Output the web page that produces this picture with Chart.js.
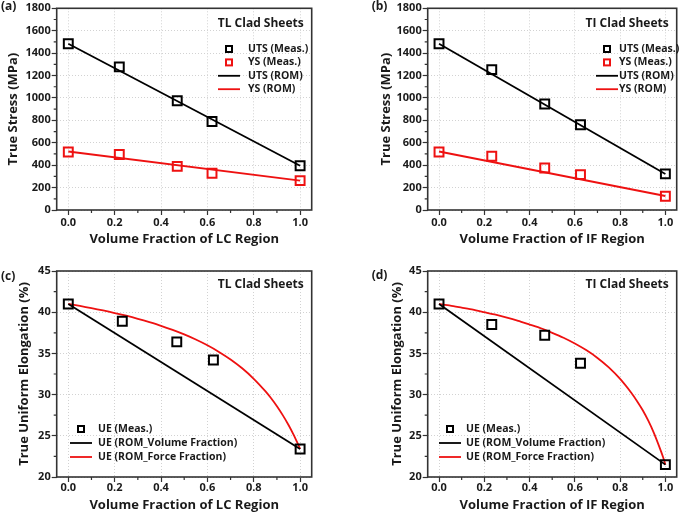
<!DOCTYPE html>
<html lang="en">
<head>
<meta charset="UTF-8">
<title>Clad sheets - rule of mixtures</title>
<script src="https://cdn.jsdelivr.net/npm/chart.js"></script>
<style>
  body { margin: 0; background: #fff; }
  #wrap { position: relative; width: 685px; height: 514px; }
  .panel { position: absolute; }
</style>
</head>
<body>
<div id="wrap">
  <div class="panel" style="left:0px;top:0px"><canvas id="chartA" width="340" height="255"></canvas></div>
  <div class="panel" style="left:340px;top:0px"><canvas id="chartB" width="345" height="255"></canvas></div>
  <div class="panel" style="left:0px;top:255px"><canvas id="chartC" width="340" height="259"></canvas></div>
  <div class="panel" style="left:340px;top:255px"><canvas id="chartD" width="345" height="259"></canvas></div>
</div>

<script>
// ---- data ----
// measured samples (volume fraction of LC / IF region)
const fracLC = [0, 0.22, 0.47, 0.62, 1.0];
const fracIF = [0, 0.233, 0.467, 0.625, 1.0];
const utsTL = [1484, 1277, 975, 790, 395];
const ysTL = [518, 495, 389, 328, 262];
const utsTI = [1484, 1253, 946, 761, 322];
const ysTI = [518, 480, 375, 316, 123];

// rule of mixtures lines (end points)
const romFrac = [0, 1.0];
const utsRomTL = [1484, 395];
const ysRomTL = [522, 262];
const utsRomTI = [1484, 322];
const ysRomTI = [522, 125];

// uniform elongation
const ueFracLC = [0, 0.233, 0.468, 0.626, 1.0];
const ueFracIF = [0, 0.233, 0.467, 0.625, 1.0];
const ueTL = [41.0, 38.9, 36.4, 34.2, 23.4];
const ueTI = [41.0, 38.5, 37.2, 33.8, 21.5];
const ueVolTL = [41.0, 23.4];
const ueVolTI = [41.0, 21.5];
// force-fraction curve, read along its length
const forceFrac = [0, 0.05, 0.1, 0.15, 0.2, 0.25, 0.3, 0.35, 0.4, 0.45, 0.5, 0.55, 0.6, 0.65,
                   0.7, 0.75, 0.8, 0.85, 0.875, 0.9, 0.925, 0.95, 0.97, 0.99, 1.0];
const ueForceTL = [41.0, 40.76, 40.49, 40.21, 39.9, 39.57, 39.2, 38.79, 38.35, 37.85, 37.3, 36.68, 35.98, 35.18,
                   34.26, 33.19, 31.92, 30.42, 29.55, 28.58, 27.51, 26.31, 25.23, 24.04, 23.4];
const ueForceTI = [41.0, 40.8, 40.55, 40.3, 40.0, 39.7, 39.35, 38.95, 38.5, 38.05, 37.5, 36.9, 36.2, 35.4,
                   34.45, 33.3, 31.9, 30.2, 29.2, 28.1, 26.8, 25.3, 23.9, 22.4, 21.5];

// ticks
const xTicks = [0, 0.2, 0.4, 0.6, 0.8, 1.0];
const xMinor = [0.1, 0.3, 0.5, 0.7, 0.9];
const stressTicks = [0, 200, 400, 600, 800, 1000, 1200, 1400, 1600, 1800];
const stressMinor = [100, 300, 500, 700, 900, 1100, 1300, 1500, 1700];
const ueTicks = [20, 25, 30, 35, 40, 45];
const ueMinor = [22.5, 27.5, 32.5, 37.5, 42.5];

// ---- styling ----
const RED = '#ee1111';
const BLACK = '#000000';
const AXIS = '#333333';
const TEXT = '#1a1a1a';
Chart.defaults.font.family = "'Open Sans', sans-serif";
Chart.defaults.color = TEXT;

const pts = (xs, ys) => xs.map((x, i) => ({x: x, y: ys[i]}));

function markers(label, xs, ys, color) {
  return {
    label: label, data: pts(xs, ys), showLine: false,
    pointStyle: 'rect', pointRadius: 6.3, pointBorderWidth: 2,
    pointBorderColor: color, pointBackgroundColor: 'rgba(0,0,0,0)'
  };
}
function line(label, xs, ys, color, smooth) {
  return {
    label: label, data: pts(xs, ys), showLine: true, pointRadius: 0,
    borderColor: color, borderWidth: 1.8,
    tension: smooth ? 0.2 : 0
  };
}

// draws frame, minor ticks, panel label, inner title and legend
const decor = {
  id: 'decor',
  afterDraw(chart, args, o) {
    const {ctx, chartArea: a} = chart;
    const x = chart.scales.x, y = chart.scales.y;
    ctx.save();
    ctx.strokeStyle = AXIS;
    ctx.lineWidth = 1.2;
    ctx.beginPath();
    o.xMinor.forEach(v => {
      const px = x.getPixelForValue(v);
      ctx.moveTo(px, a.bottom); ctx.lineTo(px, a.bottom + 3);
    });
    o.yMinor.forEach(v => {
      const py = y.getPixelForValue(v);
      ctx.moveTo(a.left, py); ctx.lineTo(a.left - 3, py);
    });
    ctx.stroke();
    ctx.lineWidth = 1.6;
    ctx.strokeRect(a.left, a.top, a.right - a.left, a.bottom - a.top);

    ctx.fillStyle = TEXT;
    ctx.textBaseline = 'middle';
    ctx.textAlign = 'left';
    ctx.font = "bold 12px 'Open Sans'";
    ctx.fillText(o.label, o.labelX, o.labelY);

    ctx.textAlign = 'right';
    ctx.fillText(o.title, a.right - 8, a.top + o.titleDy);

    ctx.textAlign = 'left';
    ctx.font = "bold 10.5px 'Open Sans'";
    chart.data.datasets.forEach((ds, i) => {
      const cy = o.legY + i * o.legGap;
      if (ds.showLine) {
        ctx.strokeStyle = ds.borderColor;
        ctx.lineWidth = 1.8;
        ctx.beginPath();
        ctx.moveTo(o.legX - 11, cy); ctx.lineTo(o.legX + 11, cy);
        ctx.stroke();
      } else {
        ctx.strokeStyle = ds.pointBorderColor;
        ctx.lineWidth = 2;
        ctx.strokeRect(o.legX - 3, cy - 3, 6, 6);
      }
      ctx.fillStyle = TEXT;
      ctx.fillText(ds.label, o.legX + o.textDx, cy);
    });
    ctx.restore();
  }
};

function makeChart(id, p) {
  const cv = document.getElementById(id);
  const W = cv.width, H = cv.height;
  return new Chart(cv, {
    type: 'scatter',
    data: {datasets: p.datasets},
    options: {
      responsive: false,
      animation: false,
      events: [],
      layout: {padding: {left: p.padL, right: W - p.right, top: p.top, bottom: p.padB}},
      scales: {
        x: {
          type: 'linear', min: -0.05, max: 1.05,
          afterBuildTicks: s => { s.ticks = xTicks.map(v => ({value: v})); },
          afterFit: s => { s.height = H - p.padB - p.bottom; s.paddingLeft = 0; s.paddingRight = 0; },
          grid: {color: '#d2d2d2', lineWidth: 1, tickColor: AXIS, tickLength: 5, tickWidth: 1.2},
          border: {display: false, dash: [1, 2]},
          ticks: {font: {size: 11, weight: 'bold'}, padding: p.xPad, callback: v => v.toFixed(1), maxRotation: 0},
          title: {display: true, text: p.xTitle, font: {size: 13, weight: 'bold'}, padding: 0}
        },
        y: {
          type: 'linear', min: p.yMin, max: p.yMax,
          afterBuildTicks: s => { s.ticks = p.yTicks.map(v => ({value: v})); },
          afterFit: s => { s.width = p.left - p.padL; s.paddingTop = 0; s.paddingBottom = 0; },
          grid: {color: '#d2d2d2', lineWidth: 1, tickColor: AXIS, tickLength: 5, tickWidth: 1.2},
          border: {display: false, dash: [1, 2]},
          ticks: {font: {size: 11, weight: 'bold'}, padding: 1, callback: v => String(v)},
          title: {display: true, text: p.yTitle, font: {size: 13, weight: 'bold'}, padding: 0}
        }
      },
      plugins: {
        legend: {display: false},
        tooltip: {enabled: false},
        decor: p.decor
      }
    },
    plugins: [decor]
  });
}

makeChart('chartA', {
  left: 56.7, right: 311.7, top: 5, bottom: 210, padL: 5.7, padB: 7.7, xPad: 1,
  yMin: 0, yMax: 1800, yTicks: stressTicks,
  xTitle: 'Volume Fraction of LC Region', yTitle: 'True Stress (MPa)',
  datasets: [
    markers('UTS (Meas.)', fracLC, utsTL, BLACK),
    markers('YS (Meas.)', fracLC, ysTL, RED),
    line('UTS (ROM)', romFrac, utsRomTL, BLACK),
    line('YS (ROM)', romFrac, ysRomTL, RED)
  ],
  decor: {label: '(a)', labelX: 1, labelY: 7, title: 'TL Clad Sheets', titleDy: 15,
          legX: 229, legY: 49, legGap: 13.4, textDx: 19, xMinor: xMinor, yMinor: stressMinor}
});

makeChart('chartB', {
  left: 87.7, right: 342.2, top: 5, bottom: 210, padL: 38.9, padB: 7.7, xPad: 1,
  yMin: 0, yMax: 1800, yTicks: stressTicks,
  xTitle: 'Volume Fraction of IF Region', yTitle: 'True Stress (MPa)',
  datasets: [
    markers('UTS (Meas.)', fracIF, utsTI, BLACK),
    markers('YS (Meas.)', fracIF, ysTI, RED),
    line('UTS (ROM)', romFrac, utsRomTI, BLACK),
    line('YS (ROM)', romFrac, ysRomTI, RED)
  ],
  decor: {label: '(b)', labelX: 31.7, labelY: 7, title: 'TI Clad Sheets', titleDy: 15,
          legX: 267, legY: 49, legGap: 13.4, textDx: 12, xMinor: xMinor, yMinor: stressMinor}
});

makeChart('chartC', {
  left: 56.7, right: 311.7, top: 16, bottom: 222, padL: 16.2, padB: 1.2, xPad: -1,
  yMin: 20, yMax: 45, yTicks: ueTicks,
  xTitle: 'Volume Fraction of LC Region', yTitle: 'True Uniform Elongation (%)',
  datasets: [
    markers('UE (Meas.)', ueFracLC, ueTL, BLACK),
    line('UE (ROM_Volume Fraction)', romFrac, ueVolTL, BLACK),
    line('UE (ROM_Force Fraction)', forceFrac, ueForceTL, RED, true)
  ],
  decor: {label: '(c)', labelX: 1, labelY: 21.7, title: 'TL Clad Sheets', titleDy: 14,
          legX: 81, legY: 174, legGap: 14, textDx: 17, xMinor: xMinor, yMinor: ueMinor}
});

makeChart('chartD', {
  left: 87.7, right: 342.2, top: 16, bottom: 222, padL: 49.7, padB: 1.2, xPad: -1,
  yMin: 20, yMax: 45, yTicks: ueTicks,
  xTitle: 'Volume Fraction of IF Region', yTitle: 'True Uniform Elongation (%)',
  datasets: [
    markers('UE (Meas.)', ueFracIF, ueTI, BLACK),
    line('UE (ROM_Volume Fraction)', romFrac, ueVolTI, BLACK),
    line('UE (ROM_Force Fraction)', forceFrac, ueForceTI, RED, true)
  ],
  decor: {label: '(d)', labelX: 31.7, labelY: 21, title: 'TI Clad Sheets', titleDy: 14,
          legX: 110, legY: 174, legGap: 14, textDx: 16, xMinor: xMinor, yMinor: ueMinor}
});
</script>
</body>
</html>
